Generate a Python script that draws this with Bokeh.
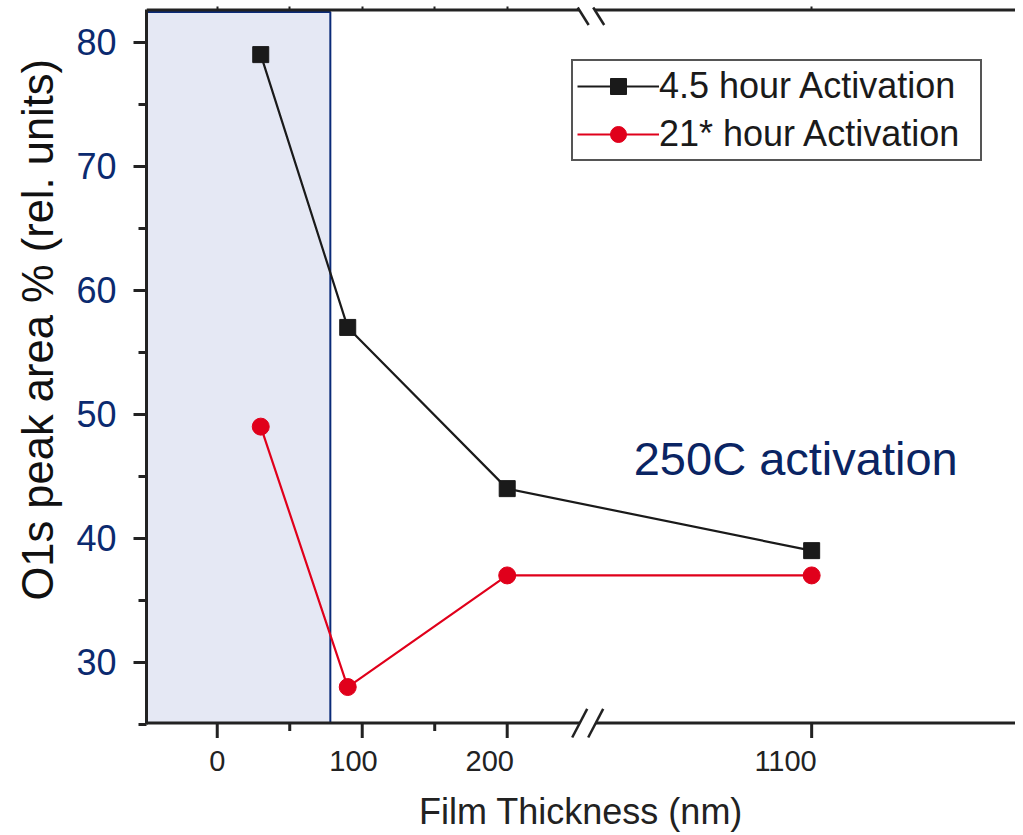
from bokeh.plotting import figure
from bokeh.models import (Range1d, LinearAxis, FixedTicker, BoxAnnotation, Label,
                          Legend, LegendItem, Title)
from bokeh.embed import file_html
from bokeh.resources import INLINE

# ---------------- data ----------------
thickness_nm = [30, 90, 200, 1100]
area_4_5h = [79, 57, 44, 39]
area_21h = [49, 28, 37, 37]
series_labels = ["4.5 hour Activation", "21* hour Activation"]
x_ticks_nm = [0, 100, 200, 1100]
x_tick_labels = ["0", "100", "200", "1100"]
x_minor_nm = [50, 150]
y_ticks = [30, 40, 50, 60, 70, 80]
y_minor = [25, 35, 45, 55, 65, 75]
shade_upto_nm = 78
annotation_text = "250C activation"
x_title = "Film Thickness (nm)"
y_title = "O1s peak area % (rel. units)"

BREAK_SHIFT = 690      # nm removed by the axis break (1100 nm drawn at 410)
BREAK_X = 250          # display position of the break marks
# in the original the tick labels sit slightly left of their ticks
LABEL_POS = [0, 94, 188, 392]


def disp(x):
    return x if x <= 200 else x - BREAK_SHIFT


# ---------------- styling / geometry ----------------
FONT = "Liberation Sans"
NAVY = "#0b2a6f"
BLACK = "#1a1a1a"
RED = "#e0001b"
AXIS = "#222222"
AW = 3  # axis line width

W, H = 1015, 835
X0, X1 = -48.8, 550.6
Y0, Y1 = 23.85, 82.88        # frame extends a little past the drawn axes
AXIS_Y = 25.1                # where the bottom axis line is drawn
TOP_Y = 82.6                 # where the top axis line is drawn
XPU = 1.45   # px per x unit
YPU = 12.4   # px per y unit


def dx(px):
    return px / XPU


def dy(px):
    return px / YPU


p = figure(width=W, height=H, output_backend="svg", toolbar_location=None,
           x_range=Range1d(X0, X1), y_range=Range1d(Y0, Y1),
           min_border_left=146, min_border_right=0, min_border_top=6,
           min_border_bottom=97)
p.outline_line_color = None
p.xgrid.visible = False
p.ygrid.visible = False
p.background_fill_color = "white"
p.border_fill_color = "white"

# shaded region
p.add_layout(BoxAnnotation(right=shade_upto_nm, top=TOP_Y - dy(2), bottom=AXIS_Y,
                           fill_color="#e5e8f4", fill_alpha=1,
                           line_color="#0a2a78", line_alpha=1, line_width=2,
                           level="underlay"))

xd = [disp(v) for v in thickness_nm]
r1l = p.line(xd, area_4_5h, line_color=BLACK, line_width=2.2)
r1s = p.scatter(xd, area_4_5h, marker="square", size=16, fill_color=BLACK, line_color=BLACK)
r2l = p.line(xd, area_21h, line_color=RED, line_width=2.2)
r2s = p.scatter(xd, area_21h, marker="circle", size=17, fill_color=RED, line_color=RED)

# ---------------- axes ----------------
xt = [disp(t) for t in x_ticks_nm]
xm = [disp(t) for t in x_minor_nm]

xa = p.xaxis[0]
xa.ticker = FixedTicker(ticks=LABEL_POS, minor_ticks=[])
xa.major_label_overrides = {pos: lab for pos, lab in zip(LABEL_POS, x_tick_labels)}
xa.major_label_text_font = FONT
xa.major_label_text_font_size = "29px"
xa.major_label_text_color = AXIS
xa.major_label_standoff = 12
xa.axis_label = x_title
xa.axis_label_text_font = FONT
xa.axis_label_text_font_size = "36px"
xa.axis_label_text_font_style = "normal"
xa.axis_label_text_color = AXIS
xa.axis_label_standoff = 17
xa.axis_line_color = None
xa.major_tick_line_color = None
xa.major_tick_out = 0
xa.major_tick_in = 0

ya = p.yaxis[0]
ya.ticker = FixedTicker(ticks=y_ticks, minor_ticks=y_minor)
ya.bounds = (25, TOP_Y)
ya.major_label_text_font = FONT
ya.major_label_text_font_size = "36px"
ya.major_label_text_color = NAVY
ya.major_label_standoff = 17
ya.axis_line_width = AW
ya.axis_line_color = AXIS
ya.major_tick_line_width = AW
ya.minor_tick_line_width = AW
ya.major_tick_line_color = AXIS
ya.minor_tick_line_color = AXIS
ya.major_tick_out = 13
ya.major_tick_in = 0
ya.minor_tick_out = 8
ya.minor_tick_in = 0

top = LinearAxis(ticker=FixedTicker(ticks=xt, minor_ticks=xm),
                 major_label_overrides={t: "" for t in xt},
                 major_label_text_font_size="0px", major_label_standoff=0,
                 axis_line_color=None,
                 major_tick_line_width=2, minor_tick_line_width=2,
                 major_tick_line_color=AXIS, minor_tick_line_color=AXIS,
                 major_tick_out=0, major_tick_in=3, minor_tick_out=0, minor_tick_in=3)
p.add_layout(top, "above")

# y axis title, placed a little above centre as in the original
p.add_layout(Title(text=y_title, align="left", offset=138, standoff=23,
                   text_font=FONT, text_font_size="43.5px", text_font_style="normal",
                   text_color="#111111"), "left")

# annotation text
p.add_layout(Label(x=399, y=46.4, text=annotation_text, text_align="center",
                   text_baseline="alphabetic", text_font=FONT, text_font_size="47px",
                   text_color="#0a2463"))

# ---------------- bottom axis line, ticks and break ----------------
bc = [BREAK_X, BREAK_X + dx(16)]
p.segment(x0=[X0, bc[1]], y0=[AXIS_Y, AXIS_Y], x1=[bc[0], X1], y1=[AXIS_Y, AXIS_Y],
          line_color=AXIS, line_width=AW)
p.segment(x0=[c - dx(7.5) for c in bc], y0=[AXIS_Y - dy(14.5)] * 2,
          x1=[c + dx(7.5) for c in bc], y1=[AXIS_Y + dy(14.2)] * 2,
          line_color=AXIS, line_width=2.5)
p.segment(x0=xt, y0=[AXIS_Y] * len(xt), x1=xt, y1=[AXIS_Y - dy(15)] * len(xt),
          line_color=AXIS, line_width=AW)
p.segment(x0=xm, y0=[AXIS_Y] * len(xm), x1=xm, y1=[AXIS_Y - dy(8)] * len(xm),
          line_color=AXIS, line_width=AW)

# ---------------- top axis line and break ----------------
tc = [BREAK_X + dx(3.5), BREAK_X + dx(19)]
p.segment(x0=[X0, tc[1] - dx(4)], y0=[TOP_Y, TOP_Y], x1=[tc[0] - dx(4), X1], y1=[TOP_Y, TOP_Y],
          line_color=AXIS, line_width=AW)
p.segment(x0=[c - dx(5.5) for c in tc], y0=[TOP_Y + dy(2.5)] * 2,
          x1=[c + dx(5.5) for c in tc], y1=[TOP_Y - dy(15)] * 2,
          line_color=AXIS, line_width=2.5)

# ---------------- legend ----------------
legend = Legend(items=[LegendItem(label=series_labels[0], renderers=[r1l, r1s]),
                       LegendItem(label=series_labels[1], renderers=[r2l, r2s])],
                location=(425, 577), orientation="vertical",
                label_text_font=FONT, label_text_font_size="36px",
                label_text_color=BLACK, label_standoff=0,
                glyph_width=82, glyph_height=40, label_height=40, label_width=317,
                spacing=6, padding=4, margin=0,
                border_line_color="#555555", border_line_alpha=1, border_line_width=2,
                background_fill_color="white", background_fill_alpha=1)
p.add_layout(legend)

open("out.html", "w").write(file_html(p, INLINE))
